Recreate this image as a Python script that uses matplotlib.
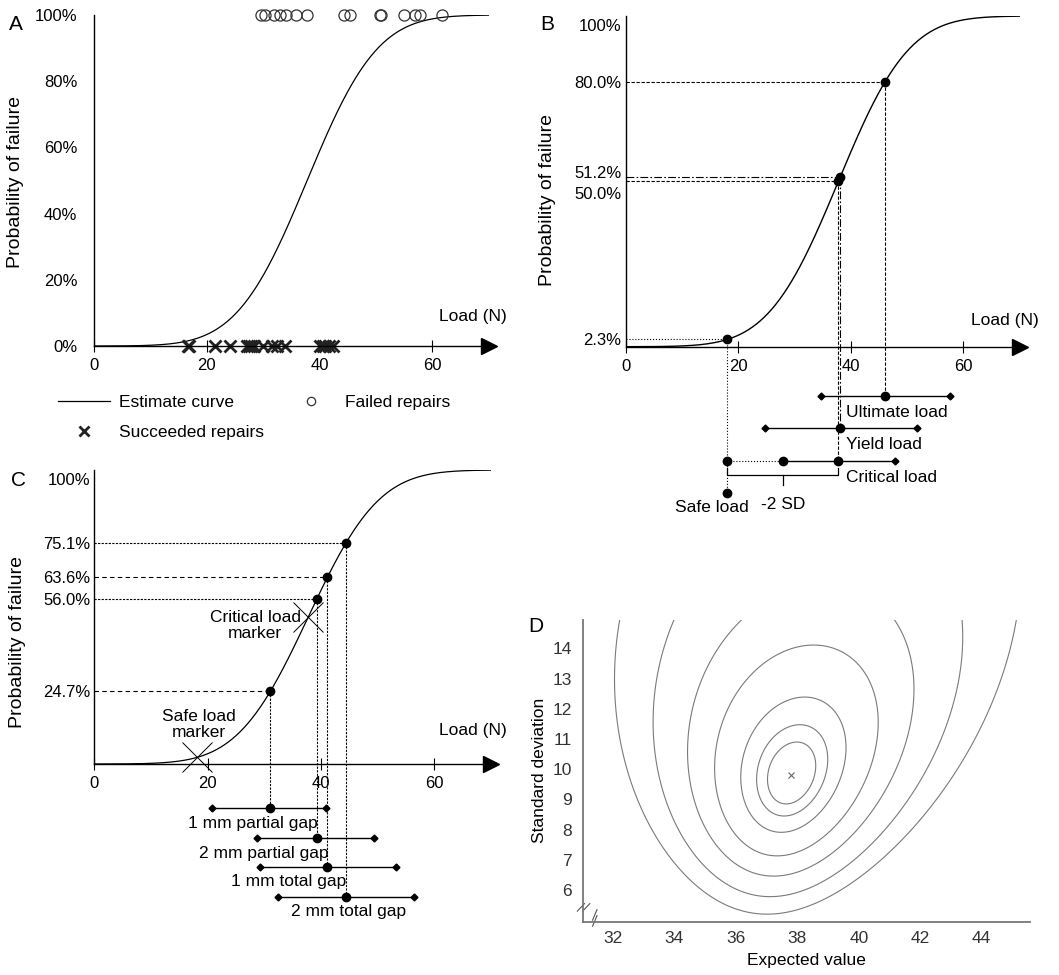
import math

import matplotlib
matplotlib.use("Agg")
import matplotlib.pyplot as plt
import numpy as np
from matplotlib.lines import Line2D
from matplotlib.transforms import ScaledTranslation

W, H = 1059, 975

plt.rcParams["font.family"] = ["Liberation Sans", "DejaVu Sans"]
plt.rcParams["font.size"] = 12

# fitted normal model of the failure load (N)
MU = 37.8
SIGMA = 9.8

# panel A: tested repairs, load in N
failed_loads = [29.7, 30.3, 31.9, 33.0, 34.0, 35.9, 37.8, 44.4, 45.4, 50.7, 50.9,
                54.9, 56.9, 57.8, 61.7]
succeeded_loads = [16.7, 16.9, 21.5, 24.1, 27.1, 27.5, 27.9, 28.3, 30.0, 31.5, 32.4,
                   33.9, 40.1, 40.6, 41.0, 41.6, 42.4]

# panel B: load estimates with ranges
b_names = ["Ultimate load", "Yield load", "Critical load"]
b_center = [46.1, 38.0, 37.8]
b_low = [34.7, 24.8, 28.0]
b_high = [57.6, 51.7, 47.9]
b_prob = [0.800, 0.512, 0.500]
b_prob_labels = ["80.0%", "51.2%", "50.0%"]
safe_load = 18.0
safe_prob = 0.023

# panel C: gap types
c_names = ["1 mm partial gap", "2 mm partial gap", "1 mm total gap", "2 mm total gap"]
c_center = [31.0, 39.3, 41.2, 44.5]
c_low = [20.8, 28.8, 29.2, 32.4]
c_high = [41.0, 49.4, 53.3, 56.4]
c_prob = [0.247, 0.560, 0.636, 0.751]
c_prob_labels = ["24.7%", "56.0%", "63.6%", "75.1%"]

# panel D: lowest standard deviation reached by each likelihood contour
contour_bottom_sd = [8.85, 8.45, 7.91, 7.13, 6.46, 5.78, 5.20]
# shape of the likelihood surface
SD_POWER = -0.4     # contours are about symmetric in sd**-0.4
TILT = 0.17         # shift of the mean per unit of sd
FAN = 0.88          # contours widen with sd
WIDTH = 45.6        # mean half-width per unit of sd**-0.4

erfc = np.vectorize(math.erfc)


def norm_cdf(x, mu, sd):
    return 0.5 * erfc(-(np.asarray(x, float) - mu) / (sd * math.sqrt(2)))


def surface(mu, sd):
    # smooth stand-in for the (negative) log-likelihood around the estimate
    u = sd ** SD_POWER - SIGMA ** SD_POWER
    x = (mu - MU - TILT * (sd - SIGMA)) / (sd / SIGMA) ** FAN
    return (x / WIDTH) ** 2 + u ** 2


def px_axes(fig, left, top, right, bottom):
    return fig.add_axes([left / W, 1 - bottom / H, (right - left) / W, (bottom - top) / H])


def fig_text(fig, x, y, s, **kw):
    fig.text(x / W, 1 - y / H, s, **kw)


def load_axes(ax):
    for side in ("top", "right"):
        ax.spines[side].set_visible(False)
    for side in ("left", "bottom"):
        ax.spines[side].set_linewidth(1.0)
    ax.set_xlim(0, 70)
    ax.set_ylim(0, 1)
    ax.set_xticks([0, 20, 40, 60])
    ax.tick_params(axis="x", direction="inout", length=9, width=0.8, pad=4, labelsize=12)
    ax.tick_params(axis="y", length=0, labelsize=12)
    ax.plot([1], [0], marker=">", color="k", markersize=11,
            transform=ax.get_yaxis_transform(), clip_on=False)
    ax.set_facecolor("none")


fig = plt.figure(figsize=(W / 100, H / 100), dpi=100)
load_grid = np.linspace(0, 70, 400)
curve = norm_cdf(load_grid, MU, SIGMA)

# ---------------- A
ax = px_axes(fig, 94, 15, 488.7, 346)
load_axes(ax)
ax.plot(load_grid, curve, color="k", lw=0.9)
ax.plot(failed_loads, np.ones(len(failed_loads)), "o", mfc="none", mec="#333333",
        ms=8, mew=0.9, clip_on=False)
ax.plot(succeeded_loads, np.zeros(len(succeeded_loads)), "x", color="#222222",
        ms=8, mew=2, clip_on=False)
ax.set_yticks([0, 0.2, 0.4, 0.6, 0.8, 1.0])
ax.set_yticklabels(["0%", "20%", "40%", "60%", "80%", "100%"])
ax.tick_params(axis="y", pad=12)
ax.set_ylabel("Probability of failure", fontsize=14)
ax.yaxis.set_label_coords(-0.177, 0.496)
fig_text(fig, 473, 316, "Load (N)", ha="center", va="center", fontsize=12.5)
fig_text(fig, 16, 24, "A", ha="center", va="center", fontsize=15)

handles = [
    Line2D([], [], color="k", lw=0.9),
    Line2D([], [], ls="none", marker="x", color="#222222", ms=7, mew=2),
    Line2D([], [], ls="none", marker="o", mfc="none", mec="#333333", ms=6, mew=0.9),
]
fig.legend(handles, ["Estimate curve", "Succeeded repairs", "Failed repairs"],
           loc="upper left", bbox_to_anchor=(58 / W, 1 - 395 / H), ncol=2, frameon=False,
           handlelength=3.0, handletextpad=0.5, columnspacing=1.2, labelspacing=0.85,
           borderpad=0, borderaxespad=0, fontsize=12.5)

# ---------------- B
ax = px_axes(fig, 625.7, 16, 1019.6, 346.7)
load_axes(ax)
ax.plot(load_grid, curve, color="k", lw=1.0)
ticks = [1.0] + b_prob + [safe_prob]
ax.set_yticks(ticks)
ax.set_yticklabels(["100%"] + b_prob_labels + ["2.3%"])
ax.tick_params(axis="y", pad=3)
labels = ax.get_yticklabels()
labels[0].set_transform(labels[0].get_transform() + ScaledTranslation(0, -9 / 100, fig.dpi_scale_trans))
labels[2].set_transform(labels[2].get_transform() + ScaledTranslation(0, 5 / 100, fig.dpi_scale_trans))
labels[3].set_transform(labels[3].get_transform() + ScaledTranslation(0, -12 / 100, fig.dpi_scale_trans))
ax.set_ylabel("Probability of failure", fontsize=14)
ax.yaxis.set_label_coords(-0.177, 0.444)

row_y = [-0.149, -0.247, -0.347]
guide_styles = [(0, (3, 1.5)), (0, (7, 2, 1.5, 2)), (0, (3, 1.5))]
for name, c, lo, hi, p, y, ls in zip(b_names, b_center, b_low, b_high, b_prob, row_y, guide_styles):
    ax.plot([0, c], [p, p], color="k", lw=0.8, ls=ls)
    ax.plot([c, c], [p, y], color="k", lw=0.8, ls=ls, clip_on=False)
    ax.plot([lo, hi], [y, y], color="k", lw=1.0, clip_on=False)
    ax.plot([c], [p], "o", color="k", ms=6)
    ax.plot([c], [y], "o", color="k", ms=6, clip_on=False)
    ax.plot([hi], [y], "D", color="k", ms=3.5, clip_on=False)
    ax.text(39.2, y - 0.05, name, ha="left", va="center", fontsize=12.5)
# ultimate and yield ranges have diamonds on both ends, critical starts with a dot
ax.plot(b_low[:2], row_y[:2], "D", color="k", ms=3.5, ls="none", clip_on=False)
ax.plot([b_low[2]], [row_y[2]], "o", color="k", ms=6, clip_on=False)

ax.plot([0, safe_load], [safe_prob, safe_prob], color="k", lw=0.8, ls=":")
ax.plot([safe_load, safe_load], [safe_prob, -0.441], color="k", lw=0.8, ls=":", clip_on=False)
ax.plot([safe_load, b_low[2]], [row_y[2], row_y[2]], color="k", lw=0.8, ls=":", clip_on=False)
ax.plot([safe_load], [safe_prob], "o", color="k", ms=6)
ax.plot([safe_load, safe_load], [row_y[2], -0.441], "o", color="k", ms=6, ls="none", clip_on=False)
mid = (safe_load + b_center[2]) / 2
ax.plot([safe_load, safe_load, b_center[2], b_center[2]], [-0.367, -0.388, -0.388, -0.367],
        color="k", lw=0.9, clip_on=False)
ax.plot([mid, mid], [-0.388, -0.418], color="k", lw=0.9, clip_on=False)
ax.text(mid, -0.478, "-2 SD", ha="center", va="center", fontsize=12.5)
ax.text(15.3, -0.487, "Safe load", ha="center", va="center", fontsize=12.5)
fig_text(fig, 1005, 321, "Load (N)", ha="center", va="center", fontsize=12.5)
fig_text(fig, 547, 24, "B", ha="center", va="center", fontsize=15)

# ---------------- C
ax = px_axes(fig, 94.3, 470, 490.5, 764)
load_axes(ax)
ax.plot(load_grid, curve, color="k", lw=0.9)
ax.set_yticks([1.0] + c_prob)
ax.set_yticklabels(["100%"] + c_prob_labels)
ax.tick_params(axis="y", pad=3)
labels = ax.get_yticklabels()
labels[0].set_transform(labels[0].get_transform() + ScaledTranslation(0, -9 / 100, fig.dpi_scale_trans))
ax.set_ylabel("Probability of failure", fontsize=14)
ax.yaxis.set_label_coords(-0.172, 0.416)

c_row_y = [-0.151, -0.253, -0.351, -0.453]
c_label_x = [28.1, 29.9, 34.3, 44.9]
h_styles = [(0, (4, 3)), (0, (2, 1.2)), (0, (4, 3)), (0, (2, 1.2))]
for name, c, lo, hi, p, y, lx, ls in zip(c_names, c_center, c_low, c_high, c_prob,
                                         c_row_y, c_label_x, h_styles):
    ax.plot([0, c], [p, p], color="k", lw=0.8, ls=ls)
    ax.plot([c, c], [p, y], color="k", lw=0.8, ls=(0, (2, 1.2)), clip_on=False)
    ax.plot([lo, hi], [y, y], color="k", lw=1.0, clip_on=False)
    ax.plot([c], [p], "o", color="k", ms=6)
    ax.plot([c], [y], "o", color="k", ms=6, clip_on=False)
    ax.plot([lo, hi], [y, y], "D", color="k", ms=3.5, ls="none", clip_on=False)
    ax.text(lx, y - 0.05, name, ha="center", va="center", fontsize=12.5)

marker_loads = [MU - 2 * SIGMA, MU]
ax.plot(marker_loads, norm_cdf(marker_loads, MU, SIGMA), "x", color="k", ms=22, mew=0.7,
        ls="none", clip_on=False)
ax.text(18.4, 0.135, "Safe load\nmarker", ha="center", va="center", fontsize=12.5,
        linespacing=1.1)
ax.text(28.4, 0.47, "Critical load\nmarker", ha="center", va="center", fontsize=12.5,
        linespacing=1.1)
fig_text(fig, 473, 731, "Load (N)", ha="center", va="center", fontsize=12.5)
fig_text(fig, 18, 480, "C", ha="center", va="center", fontsize=15)

# ---------------- D
ax = px_axes(fig, 582.7, 620, 1030, 921.7)
mu_grid = np.linspace(31.0, 45.6, 400)
sd_grid = np.linspace(4.9, 15.0, 400)
M, S = np.meshgrid(mu_grid, sd_grid)
Z = surface(M, S)
mu_fine = np.linspace(31.0, 45.6, 800)
levels = sorted(surface(mu_fine, sb).min() for sb in contour_bottom_sd)
ax.contour(M, S, Z, levels=levels, colors="#7a7a7a", linewidths=0.8)
ax.plot([MU], [SIGMA], "x", color="#666666", ms=5, mew=0.8)
ax.set_xlim(31.02, 45.57)
ax.set_ylim(4.95, 14.94)
ax.set_xticks(range(32, 45, 2))
ax.set_yticks(range(6, 15))
ax.tick_params(length=0, labelsize=12.5, labelcolor="#333333")
ax.tick_params(axis="x", pad=7)
ax.tick_params(axis="y", pad=8)
for side in ("top", "right"):
    ax.spines[side].set_visible(False)
for side in ("left", "bottom"):
    ax.spines[side].set_color("#777777")
    ax.spines[side].set_linewidth(1.3)
ax.set_xlabel("Expected value", fontsize=12.5, labelpad=5)
ax.set_ylabel("Standard deviation", fontsize=12.5, labelpad=4)
brk = dict(color="#555555", lw=0.8, clip_on=False, transform=ax.transAxes)
for dx in (0.0, 0.012):
    ax.plot([-0.012 + dx, 0.004 + dx], [0.035, 0.06], **brk)
for dy in (0.0, 0.02):
    ax.plot([0.022, 0.032], [-0.015 + dy, 0.02 + dy], **brk)
fig_text(fig, 536, 627, "D", ha="center", va="center", fontsize=15)

fig.savefig("out.png", dpi=100)
